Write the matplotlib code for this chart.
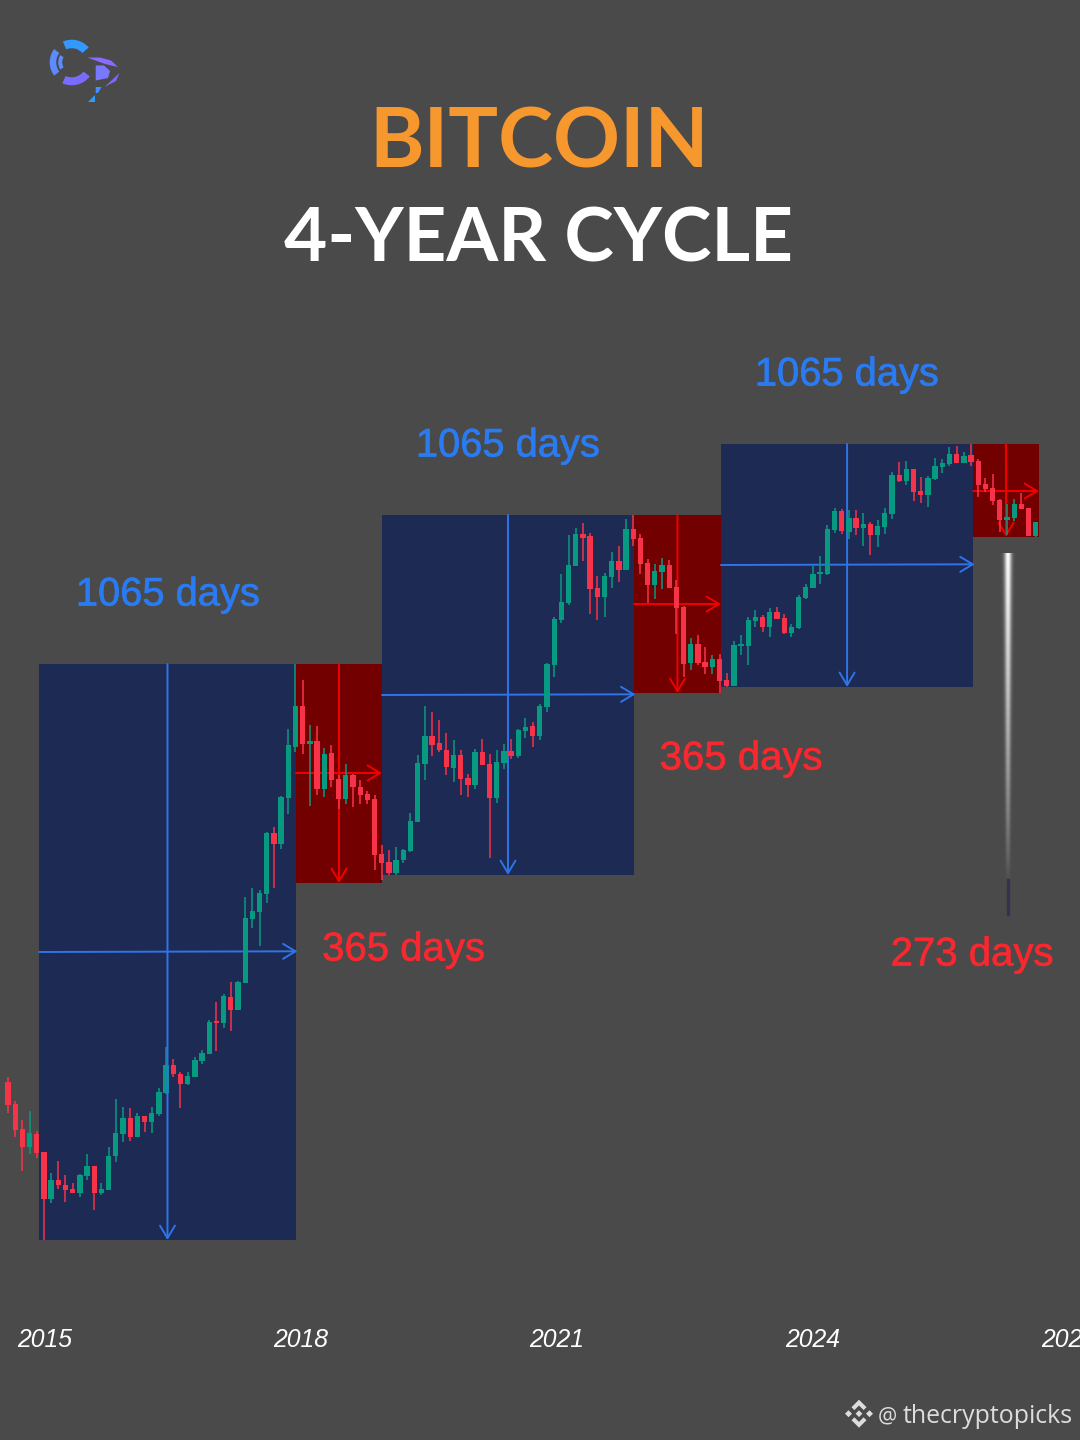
import numpy as np
import matplotlib
matplotlib.use("Agg")
import matplotlib.pyplot as plt
import matplotlib.patheffects as pe
from matplotlib.patches import Wedge, Polygon

# price candles in chart height units (y grows downwards)
opens = [1082,1104,1129,1147,1134,1152,1199,1180,1185,1189,
         1193,1176,1166,1193,1190,1156,1134,1118,1137,1116,
         1122,1114,1093,1065,1074,1084,1077,1061,1054,1021,
         1023,997,1010,983,919,912,894,833,844,798,
         747,706,744,741,789,753,779,799,775,787,
         794,799,854,862,873,860,851,822,764,736,
         743,750,768,755,778,785,752,764,798,763,
         751,756,731,726,736,707,665,620,603,566,
         534,536,588,597,577,561,570,529,538,563,
         585,572,565,587,607,663,644,662,667,659,
         680,686,646,646,621,617,627,612,618,633,
         628,598,588,574,574,530,511,532,518,528,
         524,535,527,514,475,481,469,491,495,479,
         467,464,454,463,455,461,484,488,500,520,
         518,504,508,536]
closes = [1105,1130,1147,1133,1153,1199,1180,1185,1190,1193,
          1175,1166,1193,1189,1156,1133,1118,1137,1116,1122,
          1113,1092,1065,1074,1084,1076,1060,1053,1022,1023,
          996,1010,982,918,911,893,833,844,797,745,
          706,744,741,789,754,780,799,775,787,795,
          800,855,863,873,860,850,821,763,736,745,
          750,767,755,779,785,752,765,798,762,751,
          756,730,727,736,706,664,619,602,565,534,
          538,589,597,576,561,570,529,539,564,585,
          571,565,588,608,664,644,663,667,659,681,
          686,645,644,620,617,627,612,619,633,627,
          597,587,574,572,529,511,531,518,528,524,
          535,526,513,475,481,469,492,495,478,466,
          463,454,463,456,462,485,489,501,520,517,
          504,509,536,522]
highs = [1077,1101,1120,1111,1131,1152,1173,1161,1175,1183,
         1174,1154,1166,1183,1147,1099,1107,1108,1113,1116,
         1107,1088,1047,1059,1072,1072,1057,1050,1020,1002,
         994,982,981,897,888,890,832,827,796,729,
         664,680,725,726,748,745,775,764,774,780,
         791,795,845,850,847,849,813,755,706,712,
         720,733,740,750,774,749,739,754,750,744,
         739,729,718,722,704,663,617,574,535,528,
         523,533,576,573,552,546,519,515,534,559,
         564,558,560,580,606,638,635,647,655,654,
         673,641,635,617,610,615,608,607,614,624,
         595,584,566,556,525,508,509,510,510,513,
         522,520,508,472,462,461,469,477,476,458,
         459,447,446,452,444,459,478,474,499,504,
         499,493,508,522]
lows = [1113,1137,1171,1154,1158,1240,1203,1189,1202,1193,
        1197,1180,1210,1195,1190,1162,1142,1141,1137,1132,
        1133,1116,1094,1077,1108,1085,1077,1064,1054,1051,
        1028,1031,1010,983,928,946,903,888,849,814,
        752,754,806,795,797,787,809,804,807,804,
        804,870,880,875,875,863,852,822,780,756,
        752,775,782,795,797,789,765,858,803,769,
        759,758,738,747,740,712,677,623,605,566,
        561,614,620,617,588,582,570,546,574,603,
        599,589,588,634,677,670,665,674,674,693,
        687,686,655,665,627,632,637,619,634,637,
        629,599,588,584,575,533,534,539,535,546,
        555,547,534,519,482,485,501,503,507,480,
        473,466,463,463,466,497,492,505,532,535,
        521,509,536,537]

# cycle boxes, start/end in candle numbers
up_starts = [4.31, 52.04, 99.2]
up_ends = [40.07, 87.1, 134.3]
up_tops = [664, 515, 444]
up_bottoms = [1240, 875, 687]
up_levels = [952, 695, 565]
down_starts = [40.07, 87.1, 134.3]
down_ends = [52.04, 99.2, 143.45]
down_tops = [664, 515, 444]
down_bottoms = [883, 693, 537]
down_levels = [773, 604, 491]

up_labels = ["1065 days", "1065 days", "1065 days"]
down_labels = ["365 days", "365 days", "273 days"]
year_labels = ["2015", "2018", "2021", "2024", "2027"]
year_pos = [5.15, 40.77, 76.39, 112.01, 147.63]

BG = "#4a4a4a"
NAVY = "#1c2a54"
DARKRED = "#730000"
GREEN = "#089981"
RED = "#f7334a"
BLUE = "#2f74e8"
LINERED = "#f20000"

fig = plt.figure(figsize=(10.8, 14.4), dpi=100, facecolor=BG)
ax = fig.add_axes([0, 0, 1, 1])
ax.set_facecolor(BG)
# 7.187 px per candle, first candle at x=8
ax.set_xlim(-8 / 7.187, (1080 - 8) / 7.187)
ax.set_ylim(1440, 0)
ax.axis("off")


def arrow(x0, y0, x1, y1, color, z=2):
    ax.annotate("", xy=(x1, y1), xytext=(x0, y0), zorder=z,
                arrowprops=dict(arrowstyle="->,head_length=0.75,head_width=0.45",
                                color=color, lw=1.4, shrinkA=0, shrinkB=0,
                                mutation_scale=12))


for n, (s, e, t, b, lev) in enumerate(zip(up_starts, up_ends, up_tops, up_bottoms, up_levels)):
    ax.fill_between([s, e], t, b, color=NAVY, lw=0, zorder=1)
    # only the first vertical runs over the candles
    arrow((s + e) / 2, t, (s + e) / 2, b, BLUE, z=4 if n == 0 else 2)
    arrow(s, lev, e + 0.2, lev - 0.7, BLUE)
for s, e, t, b, lev in zip(down_starts, down_ends, down_tops, down_bottoms, down_levels):
    ax.fill_between([s, e], t, b, color=DARKRED, lw=0, zorder=1)
    arrow((s + e) / 2, t, (s + e) / 2, b, LINERED)
    arrow(s, lev, e, lev, LINERED)

idx = np.arange(len(opens))
o = np.array(opens)
c = np.array(closes)
is_up = c < o
cols = np.where(is_up, GREEN, RED)
ax.vlines(idx, highs, lows, colors=cols, lw=1.1, zorder=3)
ax.bar(idx, np.maximum(np.abs(o - c), 1.5), bottom=np.minimum(o, c), width=0.74,
       color=cols, lw=0, zorder=3)

for p, lab in zip(year_pos, year_labels):
    ax.text(p, 1347, lab, color="white", fontsize=17.8, style="italic",
            family="Liberation Sans", ha="center", va="baseline")

# overlay in picture pixels: title, labels, logo, footer
ov = fig.add_axes([0, 0, 1, 1])
ov.patch.set_alpha(0)
ov.set_xlim(0, 1080)
ov.set_ylim(1440, 0)
ov.axis("off")

ov.text(539.5, 167, "BITCOIN", color="#f7982f", fontsize=59.8, family="Lato",
        weight="bold", ha="center", va="baseline")
ov.text(539, 262, "4-YEAR CYCLE", color="white", fontsize=53.7, family="Lato",
        weight="bold", ha="center", va="baseline")

for x, y, lab in zip([168, 508, 847], [605.5, 456.5, 385.5], up_labels):
    ov.text(x, y, lab, color="#2a7bf2", fontsize=28.7, family="Liberation Sans",
            ha="center", va="baseline",
            path_effects=[pe.withStroke(linewidth=0.5, foreground="#2a7bf2")])
for x, y, lab in zip([403.5, 741, 972], [960.5, 769.5, 965.5], down_labels):
    ov.text(x, y, lab, color="#f7282f", fontsize=28.9, family="Liberation Sans",
            ha="center", va="baseline",
            path_effects=[pe.withStroke(linewidth=0.5, foreground="#f7282f")])

# fading white streak under the last box
h, w = 360, 16
yy = np.linspace(0, 1, h)[:, None]
xx = np.linspace(-1, 1, w)[None, :]
rgba = np.ones((h, w, 4))
rgba[..., 3] = np.exp(-(xx / (0.48 - 0.2 * yy)) ** 2) * np.clip(1 - 1.1 * yy, 0, 1) ** 0.75
ov.imshow(rgba, extent=[1000, 1016, 915, 553], aspect="auto", zorder=2, interpolation="bilinear")
ov.plot([1008, 1008], [880, 914], color="#33304f", lw=2.4, alpha=0.9, zorder=3)
ov.set_xlim(0, 1080)
ov.set_ylim(1440, 0)

# logo
ov.add_patch(Wedge((71.7, 62.3), 22.6, 247, 319, width=8.5, color="#3399ff", lw=0))
ov.add_patch(Wedge((71.7, 62.3), 23, 38, 114, width=8, color="#7a6bff", lw=0))
ov.add_patch(Wedge((71.7, 62.3), 22, 143, 217, width=6.5, color="#5c8bff", lw=0))
ov.add_patch(Wedge((71.7, 62.3), 13.5, 148, 212, width=4, color="#5c8bff", lw=0))
ov.add_patch(Polygon([(87.3, 57.5), (100, 57.5), (111, 60.5), (118, 67), (105, 64)], color="#8a6bff", lw=0))
ov.add_patch(Polygon([(95.7, 65.5), (104, 65.5), (110, 71), (108, 78), (95.7, 80.5)], color="#7a78ff", lw=0))
ov.add_patch(Polygon([(119.5, 73), (116, 81), (104.5, 87)], color="#7a6bff", lw=0))
ov.add_patch(Polygon([(95.7, 87), (101.7, 87), (98, 93), (95.7, 93)], color="#3f8fff", lw=0))
ov.add_patch(Polygon([(87.5, 102), (95, 102), (95, 94.5)], color="#3399ff", lw=0))

# footer
cx, cy = 859, 1413.7
for pts in ([(-14, 0), (-10.5, -3.5), (-7, 0), (-10.5, 3.5)],
            [(14, 0), (10.5, -3.5), (7, 0), (10.5, 3.5)],
            [(0, -14), (7.5, -6.5), (4.6, -3.6), (0, -8.2), (-4.6, -3.6), (-7.5, -6.5)],
            [(0, 14), (7.5, 6.5), (4.6, 3.6), (0, 8.2), (-4.6, 3.6), (-7.5, 6.5)],
            [(0, -3.4), (3.4, 0), (0, 3.4), (-3.4, 0)]):
    ov.add_patch(Polygon([(cx + a, cy + b) for a, b in pts], color="#dddddd", lw=0))
ov.text(878, 1423, "@", color="#dddddd", fontsize=15.5, family="Open Sans", ha="left", va="baseline")
ov.text(903, 1423, "thecryptopicks", color="#dddddd", fontsize=17.9, family="Open Sans",
        ha="left", va="baseline")

fig.savefig("out.png", dpi=100, facecolor=BG)
